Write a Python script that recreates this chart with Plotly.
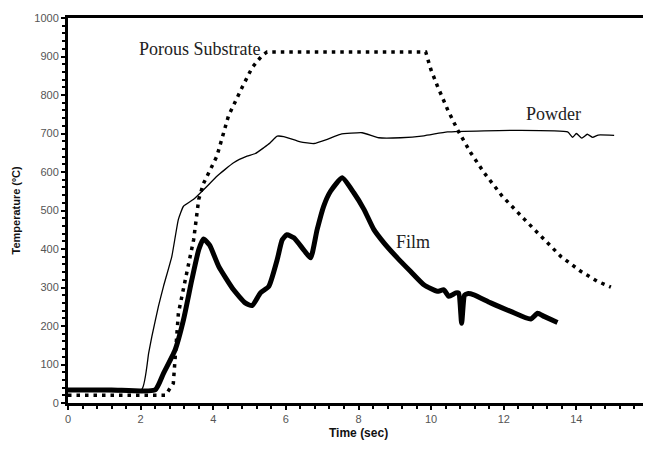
import plotly.graph_objects as go

# ---- data ----
film_x = [0, 1.2, 2.4, 2.63, 2.95, 3.18, 3.41, 3.6, 3.73, 3.9, 4.15, 4.56, 4.88, 5.07, 5.3, 5.53,
          5.76, 5.9, 6.03, 6.22, 6.49, 6.68, 6.86, 7.04, 7.23, 7.55, 7.87, 8.15, 8.42, 8.7,
          9.07, 9.43, 9.8, 10.17, 10.35, 10.49, 10.68, 10.76, 10.84, 10.92, 11.0, 11.18,
          11.64, 12.19, 12.74, 12.93, 13.11, 13.48]
film_y = [34, 34, 34, 77, 138, 216, 320, 398, 426, 410, 355, 294, 260, 253, 286, 303,
          372, 424, 437, 429, 398, 377, 450, 511, 550, 585, 546, 503, 451, 416,
          377, 342, 307, 290, 294, 277, 286, 285, 207, 280, 284, 281,
          260, 238, 218, 233, 225, 209]

powder_x = [0, 2.03, 2.22, 2.31, 2.49, 2.63, 2.86, 3.04, 3.18, 3.46, 3.83, 4.1, 4.56, 4.93,
            5.16, 5.39, 5.57, 5.76, 5.94, 6.4, 6.77, 7.14, 7.5, 8.1, 8.56, 9.16, 9.8, 10.45,
            11.46, 12.38, 13.76, 13.9, 14.0, 14.15, 14.3, 14.45, 14.6, 15.04]
powder_y = [35, 35, 129, 173, 251, 303, 381, 477, 511, 529, 563, 589, 624, 641,
            648, 663, 676, 693, 692, 678, 674, 685, 698, 702, 689, 689, 694, 704,
            707, 708, 704, 690, 700, 688, 698, 690, 696, 695]

substrate_x = [0, 2.68, 2.9, 2.95, 3.04, 3.27, 3.46, 3.6, 3.73, 4.1, 4.42, 4.79, 5.07, 5.34,
               5.48, 9.85, 9.99, 10.17, 10.45, 10.72, 11.09, 11.46, 11.96, 12.57, 13.11,
               13.57, 14.12, 14.58, 14.95]
substrate_y = [20, 20, 51, 112, 233, 338, 424, 529, 570, 641, 746, 819, 871, 902,
               912, 912, 867, 824, 763, 711, 650, 598, 537, 477, 424,
               381, 342, 316, 301]

labels = [("Porous Substrate", 3.64, 919), ("Powder", 13.38, 750), ("Film", 9.49, 417)]

x_range = [0, 16]
y_range = [0, 1000]

fig = go.Figure()
fig.add_trace(go.Scatter(x=powder_x, y=powder_y, mode="lines",
                         line=dict(color="black", width=1.3, shape="spline", smoothing=0.4),
                         showlegend=False))
fig.add_trace(go.Scatter(x=substrate_x, y=substrate_y, mode="lines",
                         line=dict(color="black", width=3.5, dash="3.5px,5px"), showlegend=False))
fig.add_trace(go.Scatter(x=film_x, y=film_y, mode="lines",
                         line=dict(color="black", width=5, shape="spline", smoothing=0.5),
                         showlegend=False))

for txt, lx, ly in labels:
    fig.add_annotation(x=lx, y=ly, text=txt, showarrow=False,
                       font=dict(family="Liberation Serif", size=18, color="#222"))

tickfont = dict(family="Liberation Sans", size=11, color="#555")

# page body has an 8px default margin: size/margins compensate for it
fig.update_layout(
    width=643, height=432,
    margin=dict(l=60, r=2, t=10, b=37),
    paper_bgcolor="white", plot_bgcolor="white",
    xaxis=dict(range=x_range, dtick=2, tick0=0, showgrid=False, zeroline=False, automargin=False,
               ticklabeloverflow="allow",
               showline=True, linecolor="black", linewidth=3, mirror=True,
               ticks="outside", ticklen=4, tickwidth=1.5, tickcolor="black",
               minor=dict(dtick=0.4, ticks="outside", ticklen=3, tickwidth=1.5, tickcolor="black"),
               tickfont=tickfont),
    yaxis=dict(range=y_range, dtick=100, tick0=0, showgrid=False, zeroline=False, automargin=False,
               ticklabeloverflow="allow",
               showline=True, linecolor="black", linewidth=3, mirror=True,
               ticks="outside", ticklen=4, tickwidth=1.5, tickcolor="black",
               minor=dict(dtick=20, ticks="outside", ticklen=3, tickwidth=1.5, tickcolor="black"),
               tickfont=tickfont),
    xaxis2=dict(range=x_range, overlaying="x", dtick=0.4, tick0=0, showticklabels=False,
                ticks="inside", ticklen=3, tickwidth=1.5, tickcolor="black", automargin=False,
                showgrid=False, zeroline=False, showline=False),
    yaxis2=dict(range=y_range, overlaying="y", dtick=20, tick0=0, showticklabels=False,
                ticks="inside", ticklen=3, tickwidth=1.5, tickcolor="black", automargin=False,
                showgrid=False, zeroline=False, showline=False),
)

fig.add_annotation(xref="paper", yref="paper", x=0.5, y=0, yshift=-30,
                   text="<b>Time (sec)</b>", showarrow=False, xanchor="center", yanchor="middle",
                   font=dict(family="Liberation Sans", size=12, color="#111"))
fig.add_annotation(xref="paper", yref="paper", x=0, xshift=-53, y=0.5,
                   text="<b>Temperature (ºC)</b>", showarrow=False, textangle=-90,
                   xanchor="center", yanchor="middle",
                   font=dict(family="Liberation Sans", size=11, color="#111"))

fig.write_html("out.html", config={"displayModeBar": False})
